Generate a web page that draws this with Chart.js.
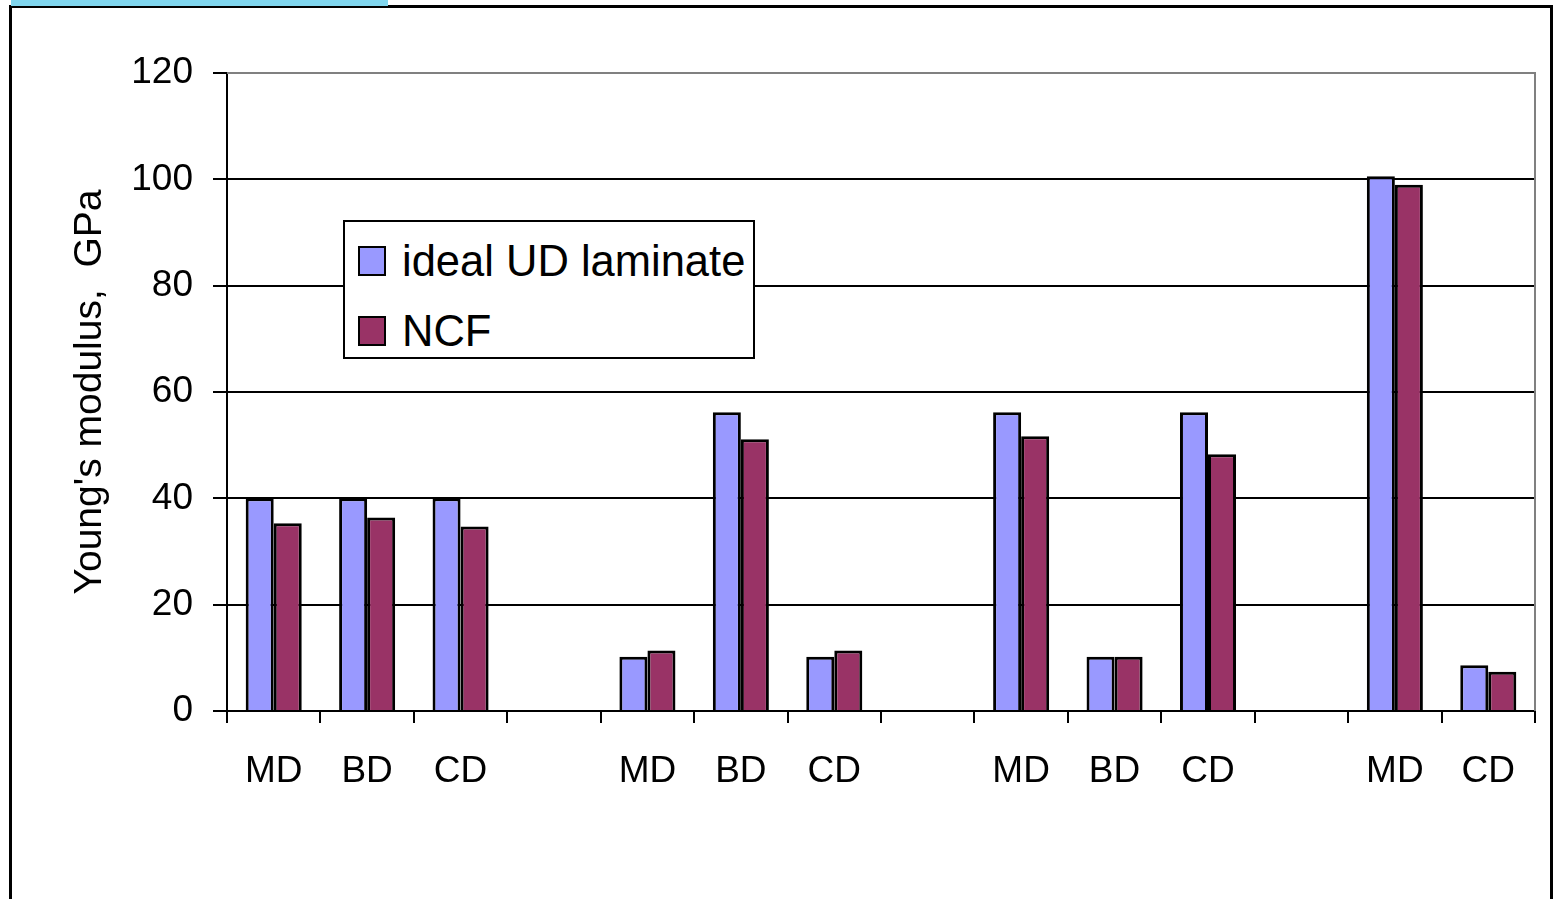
<!DOCTYPE html>
<html>
<head>
<meta charset="utf-8">
<title>Young's modulus</title>
<script src="https://cdn.jsdelivr.net/npm/chart.js@4.4.0/dist/chart.umd.min.js"></script>
<style>
  body { margin: 0; background: #fff; overflow: hidden; font-family: "Liberation Sans", Arial, sans-serif; }
  #frame { position: absolute; left: 9px; top: 5px; width: 1538px; height: 920px; border: 3px solid #000; }
  #tab { position: absolute; left: 11px; top: 0; width: 377px; height: 6px; background: #80d6ee; }
  #wrap { position: absolute; left: 0; top: 0; width: 1554px; height: 899px; }
  #legend { position: absolute; left: 343px; top: 220px; width: 408px; height: 135px; border: 2px solid #000; background: #fff; }
  .item { position: absolute; left: 13px; height: 50px; display: flex; align-items: center; font-size: 43.5px; color: #000; white-space: nowrap; }
  .swatch { width: 24px; height: 26px; border: 2px solid #000; margin-right: 16px; }
</style>
</head>
<body>
<div id="frame"></div>
<div id="tab"></div>
<div id="wrap"><canvas id="chart" width="1554" height="899"></canvas></div>
<div id="legend"></div>
<script>
// categories along the x axis (empty ones are the gaps between groups)
const categories = ["MD", "BD", "CD", "", "MD", "BD", "CD", "", "MD", "BD", "CD", "", "MD", "CD"];
const idealUD = [40, 40, 40, null, 10.2, 56.2, 10.2, null, 56.2, 10.2, 56.2, null, 100.6, 8.6];
const ncf = [35.3, 36.4, 34.7, null, 11.4, 51.1, 11.4, null, 51.7, 10.2, 48.3, null, 99.0, 7.4];
const yTicks = [0, 20, 40, 60, 80, 100, 120];

const FONT = "'Liberation Sans', Arial, sans-serif";

// gray top and right edge of the plot area
const plotFrame = {
  id: "plotFrame",
  afterDraw(chart) {
    const { ctx, chartArea: a } = chart;
    ctx.save();
    ctx.strokeStyle = "#808080";
    ctx.lineWidth = 2;
    ctx.beginPath();
    ctx.moveTo(a.left, a.top);
    ctx.lineTo(a.right, a.top);
    ctx.lineTo(a.right, a.bottom);
    ctx.stroke();
    ctx.restore();
  }
};

const ctx = document.getElementById("chart").getContext("2d");

const chart = new Chart(ctx, {
  type: "bar",
  data: {
    labels: categories,
    datasets: [
      {
        label: "ideal UD laminate",
        data: idealUD,
        backgroundColor: "#9999ff",
        borderColor: "#000",
        borderWidth: 3,
        barPercentage: 1,
        categoryPercentage: 0.6
      },
      {
        label: "NCF",
        data: ncf,
        backgroundColor: "#993366",
        borderColor: "#000",
        borderWidth: 3,
        barPercentage: 1,
        categoryPercentage: 0.6
      }
    ]
  },
  options: {
    responsive: false,
    animation: false,
    layout: { padding: { top: 73, right: 19, left: 0, bottom: 0 } },
    plugins: {
      legend: { display: false },
      tooltip: { enabled: false }
    },
    scales: {
      x: {
        offset: true,
        grid: {
          offset: true,
          drawOnChartArea: false,
          drawTicks: true,
          tickLength: 12,
          tickColor: "#000",
          lineWidth: 2
        },
        border: { display: true, color: "#000", width: 2 },
        ticks: {
          autoSkip: false,
          maxRotation: 0,
          padding: 27,
          color: "#000",
          font: { family: FONT, size: 37 }
        },
        afterFit: (s) => { s.height = 188; }
      },
      y: {
        min: 0,
        max: 120,
        afterBuildTicks: (s) => { s.ticks = yTicks.map(v => ({ value: v })); },
        grid: {
          color: (c) => (c.tick && c.tick.value === 120 ? "#808080" : "#000"),
          tickColor: "#000",
          lineWidth: 2,
          tickLength: 14
        },
        border: { display: true, color: "#000", width: 2 },
        ticks: {
          padding: 20,
          color: "#000",
          font: { family: FONT, size: 37 }
        },
        title: {
          display: true,
          text: "Young's modulus,  GPa",
          color: "#000",
          font: { family: FONT, size: 39 },
          padding: { top: 67, bottom: 0 }
        },
        afterFit: (s) => { s.width = 227; }
      }
    }
  },
  plugins: [plotFrame]
});

// legend box inside the plot, built from the datasets
const legend = document.getElementById("legend");
chart.data.datasets.forEach((ds, i) => {
  const item = document.createElement("div");
  item.className = "item";
  item.style.top = (14 + i * 70) + "px";
  const sw = document.createElement("span");
  sw.className = "swatch";
  sw.style.background = ds.backgroundColor;
  const txt = document.createElement("span");
  txt.textContent = ds.label;
  item.appendChild(sw);
  item.appendChild(txt);
  legend.appendChild(item);
});
</script>
</body>
</html>
